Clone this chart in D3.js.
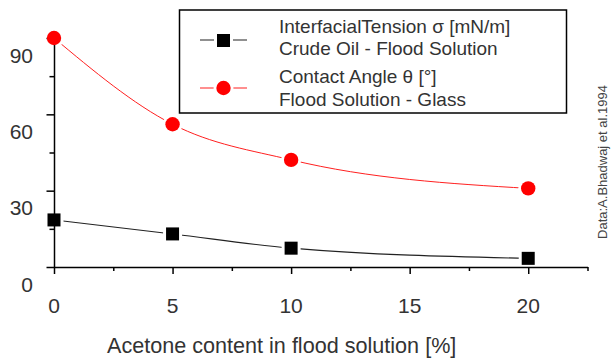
<!DOCTYPE html>
<html><head><meta charset="utf-8">
<script src="https://cdn.jsdelivr.net/npm/d3@7"></script>
<style>body{margin:0;background:#fff;} svg{display:block;font-family:"Liberation Sans",Arial,sans-serif;}</style>
</head><body>
<svg id="c" width="611" height="358"></svg>
<script>
const acetone = [0, 5, 10, 20];
const tension = [18.5, 13, 7.4, 3.4];
const contactAngle = [90, 56.1, 42.1, 30.9];
const xTickLabels = [0, 5, 10, 15, 20];
const yTickLabels = [0, 30, 60, 90];
const xMinorTicks = [2.5, 7.5, 12.5, 17.5, 22.5];
const yMinorTicks = [15, 45, 75];
const legendLines1 = ["InterfacialTension \u03c3 [mN/m]", "Crude Oil - Flood Solution"];
const legendLines2 = ["Contact Angle \u03b8 [\u00b0]", "Flood Solution - Glass"];
const xTitle = "Acetone content in flood solution [%]";
const source = "Data:A.Bhadwaj et al.1994";

const svg = d3.select("#c");
const x = d3.scaleLinear().domain([0, 22.5]).range([54, 587.5]);
const y = d3.scaleLinear().domain([0, 90]).range([267, 38]);
const textCol = "#333";

const line = d3.line().x((d,i)=>x(acetone[i])).y(d=>y(d)).curve(d3.curveMonotoneX);

// lines
svg.append("path").attr("d", line(tension)).attr("fill","none").attr("stroke","#222").attr("stroke-width",1.1);
svg.append("path").attr("d", line(contactAngle)).attr("fill","none").attr("stroke","#ff2020").attr("stroke-width",1);

// halos (white gaps around markers)
svg.append("g").selectAll("rect").data(tension).join("rect")
  .attr("x",(d,i)=>x(acetone[i])-9.5).attr("y",d=>y(d)-9.5).attr("width",19).attr("height",19).attr("fill","#fff");
svg.append("g").selectAll("circle").data(contactAngle).join("circle")
  .attr("cx",(d,i)=>x(acetone[i])).attr("cy",d=>y(d)).attr("r",10).attr("fill","#fff");

// axes
const gx = svg.append("g").attr("transform","translate(0,267)");
gx.call(d3.axisBottom(x).tickValues(xMinorTicks).tickSize(4).tickSizeOuter(0).tickFormat(""));
const gx2 = svg.append("g").attr("transform","translate(0,267)");
gx2.call(d3.axisBottom(x).tickValues(xTickLabels).tickSize(7).tickSizeOuter(0).tickFormat(""));
gx2.select(".domain").remove();
const gy = svg.append("g").attr("transform","translate(54,0)");
gy.call(d3.axisLeft(y).tickValues(yMinorTicks).tickSize(4.5).tickSizeOuter(0).tickFormat(""));
const gy2 = svg.append("g").attr("transform","translate(54,0)");
gy2.call(d3.axisLeft(y).tickValues(yTickLabels).tickSize(7.5).tickSizeOuter(0).tickFormat(""));
gy2.select(".domain").remove();
svg.selectAll(".domain, .tick line").attr("stroke","#000").attr("stroke-width",1.5);

// tick labels
svg.append("g").selectAll("text").data(xTickLabels).join("text")
  .attr("x",d=>x(d)).attr("y",y(0)+46).attr("text-anchor","middle")
  .attr("font-size",21).attr("fill",textCol).text(d=>d);
svg.append("g").selectAll("text").data(yTickLabels).join("text")
  .attr("x",33).attr("y",d=>y(d)+24.6).attr("text-anchor","end")
  .attr("font-size",21).attr("fill",textCol).text(d=>d);

// x title
svg.append("text").attr("x",107).attr("y",353).attr("font-size",21.6).attr("fill",textCol).text(xTitle);

// markers
svg.append("g").selectAll("rect").data(tension).join("rect")
  .attr("x",(d,i)=>x(acetone[i])-6.5).attr("y",d=>y(d)-6.5).attr("width",13).attr("height",13).attr("fill","#000");
svg.append("g").selectAll("circle").data(contactAngle).join("circle")
  .attr("cx",(d,i)=>x(acetone[i])).attr("cy",d=>y(d)).attr("r",7.2).attr("fill","#ff0000");

// legend
const lg = svg.append("g");
lg.append("rect").attr("x",179.5).attr("y",10).attr("width",387).attr("height",103).attr("fill","#fff").attr("stroke","#000").attr("stroke-width",1.5);
lg.append("line").attr("x1",200).attr("x2",247).attr("y1",40).attr("y2",40).attr("stroke","#222").attr("stroke-width",1.2);
lg.append("rect").attr("x",214).attr("y",31).attr("width",19).attr("height",19).attr("fill","#fff");
lg.append("rect").attr("x",217).attr("y",34).attr("width",13).attr("height",13).attr("fill","#000");
lg.append("line").attr("x1",200).attr("x2",247).attr("y1",88).attr("y2",88).attr("stroke","#ff2020").attr("stroke-width",1.2);
lg.append("circle").attr("cx",223.5).attr("cy",88).attr("r",10).attr("fill","#fff");
lg.append("circle").attr("cx",223.5).attr("cy",88).attr("r",7.2).attr("fill","#ff0000");
const legTexts = [[legendLines1[0],33.3],[legendLines1[1],55.3],[legendLines2[0],83.3],[legendLines2[1],106]];
legTexts.forEach(([t,yy])=>{
  lg.append("text").attr("x",279).attr("y",yy).attr("font-size",19).attr("fill",textCol).text(t);
});

// source
svg.append("text").attr("transform","translate(606.5,162) rotate(-90)").attr("text-anchor","middle")
  .attr("font-size",13).attr("fill","#444").text(source);
</script>
</body></html>
